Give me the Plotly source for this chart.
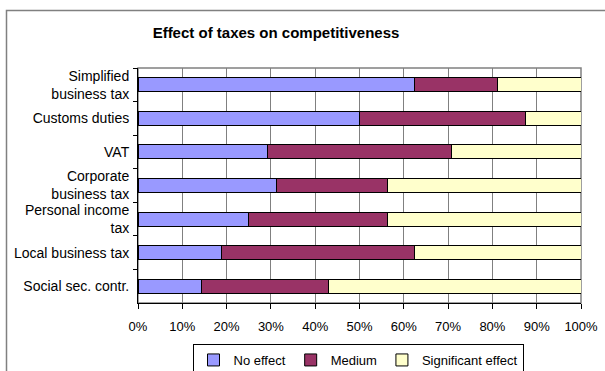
import plotly.graph_objects as go

categories = ["Simplified<br>business tax", "Customs duties", "VAT", "Corporate<br>business tax",
              "Personal income<br>tax", "Local business tax", "Social sec. contr."]
no_effect = [62.5, 50.0, 29.2, 31.25, 25.0, 18.75, 14.3]
medium = [18.75, 37.5, 41.5, 25.0, 31.25, 43.75, 28.6]
significant = [18.75, 12.5, 29.3, 43.75, 43.75, 37.5, 57.1]
series_names = ["No effect", "Medium", "Significant effect"]
series_colors = ["#9999FF", "#993366", "#FFFFCC"]
x_ticks = [0, 10, 20, 30, 40, 50, 60, 70, 80, 90, 100]
x_ticklabels = [f"{v}%" for v in x_ticks]

FONT = "Liberation Sans, Arial, sans-serif"

fig = go.Figure()
for name, vals, col in zip(series_names, [no_effect, medium, significant], series_colors):
    fig.add_trace(go.Bar(
        y=categories, x=vals, name=name, orientation="h",
        marker=dict(color=col, line=dict(color="black", width=1)),
    ))

W, H = 605, 371
ml, mr, mt, mb = 138, 24, 68, 68
pw, ph = W - ml - mr, H - mt - mb

def px_x(px):
    return (px - ml) / pw

def px_y(py):
    return (H - mb - py) / ph

fig.update_layout(
    width=W, height=H,
    margin=dict(l=ml, r=mr, t=mt, b=mb, pad=0, autoexpand=False),
    paper_bgcolor="white", plot_bgcolor="white",
    barmode="stack", bargap=0.58,
    font=dict(family=FONT, size=13, color="black"),
    title=dict(text="<b>Effect of taxes on competitiveness</b>",
               x=276 / W, xanchor="center", y=1 - 33 / H, yanchor="middle",
               font=dict(family=FONT, size=15, color="black")),
    xaxis=dict(range=[0, 100], tickvals=x_ticks, ticktext=x_ticklabels,
               showgrid=True, gridcolor="#808080", gridwidth=1,
               showline=True, linecolor="black", linewidth=1,
               ticks="outside", ticklen=5, tickcolor="black",
               ticklabelstandoff=6,
               zeroline=False, fixedrange=True,
               tickfont=dict(family=FONT, size=13)),
    yaxis=dict(categoryorder="array", categoryarray=categories, autorange="reversed",
               showgrid=False, showline=True, linecolor="black", linewidth=1,
               ticks="outside", ticklen=4, tickcolor="black", tickson="boundaries",
               ticklabelstandoff=5,
               zeroline=False, fixedrange=True,
               tickfont=dict(family=FONT, size=14)),
    legend=dict(orientation="h", x=px_x(358), xanchor="center", y=px_y(344), yanchor="top",
                bordercolor="black", borderwidth=1, bgcolor="white",
                font=dict(family=FONT, size=13), itemwidth=30,
                traceorder="normal"),
    showlegend=True,
)

# plot area border (gray)
fig.add_shape(type="rect", xref="paper", yref="paper", x0=0, x1=1, y0=0, y1=1,
              line=dict(color="#808080", width=1.5), layer="below")
# outer chart border
fig.add_shape(type="rect", xref="paper", yref="paper",
              x0=px_x(6.5), x1=px_x(640), y0=px_y(400), y1=px_y(10.5),
              line=dict(color="#808080", width=1.5), layer="below")

fig.write_html("out.html")
